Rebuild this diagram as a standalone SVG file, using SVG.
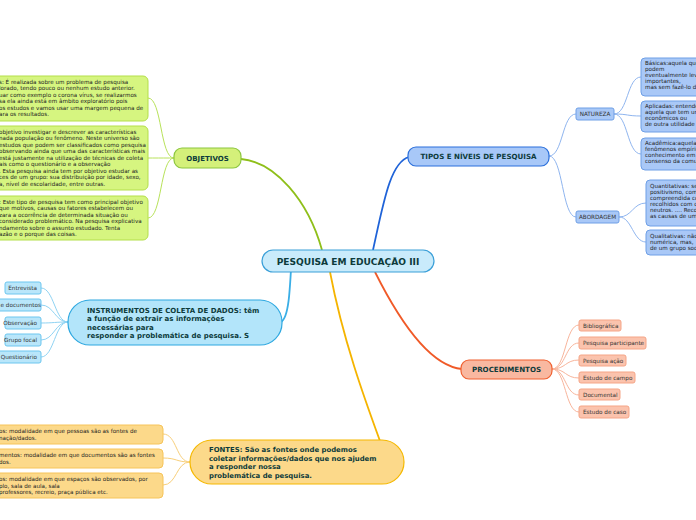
<svg xmlns="http://www.w3.org/2000/svg" width="696" height="520" viewBox="0 0 696 520">
<style>
text{font-family:"DejaVu Sans","Liberation Sans",sans-serif;}
.b{font-weight:bold;fill:#0d3b3b;}
.s{font-size:5.6px;fill:#222;}
.leaf{font-size:5.7px;fill:#333;}
.gl{fill:#d6f580;stroke:#b4df4a;stroke-width:1;}
.bl{fill:#a9c8f7;stroke:#6e9fe6;stroke-width:1;}
.il{fill:#b9e6fa;stroke:#6cc6ef;stroke-width:1;}
.pl{fill:#fbc3ad;stroke:#f5a587;stroke-width:1;}
.ol{fill:#fcd98a;stroke:#f6c45a;stroke-width:1;}
.c{fill:none;stroke-width:1;}
.m{fill:none;stroke-width:1.8;}
</style>
<rect width="696" height="520" fill="#fff"/>
<g id="connectors">
<path class="m" d="M241,159 C275,162 308,200 322,250" stroke="#8fbf1a"/>
<path class="m" d="M373,250 C383,205 390,162 409,157" stroke="#1f63d8"/>
<path class="m" d="M292,250 C290,290 289,318 281,322" stroke="#3aaee6"/>
<path class="m" d="M330,272 C343,340 365,400 380,441" stroke="#f5b400"/>
<path class="m" d="M375,272 C400,322 430,366 462,369" stroke="#f05a28"/>
<g stroke="#b8e25a">
<path class="c" d="M174,158 C160,158 162,98 148,98"/>
<path class="c" d="M174,158 C160,158 162,158 148,158"/>
<path class="c" d="M174,158 C160,158 162,218 148,218"/>
</g>
<g stroke="#8fb5ef">
<path class="c" d="M549,156 C563,156 562,114 576,114"/>
<path class="c" d="M549,156 C563,156 562,217 576,217"/>
<path class="c" d="M614,114 C628,114 627,77 641,77"/>
<path class="c" d="M614,114 C628,114 627,116 641,116"/>
<path class="c" d="M614,114 C628,114 627,154 641,154"/>
<path class="c" d="M619,217 C632,217 633,203 646,203"/>
<path class="c" d="M619,217 C632,217 633,242 646,242"/>
</g>
<g stroke="#8fd3f3">
<path class="c" d="M68,322 C55,322 54,288 41,288"/>
<path class="c" d="M68,322 C55,322 54,305 41,305"/>
<path class="c" d="M68,322 C55,322 54,323 41,323"/>
<path class="c" d="M68,322 C55,322 54,340 41,340"/>
<path class="c" d="M68,322 C55,322 54,357 41,357"/>
</g>
<g stroke="#f8b59c">
<path class="c" d="M552,369 C566,369 565,325 579,325"/>
<path class="c" d="M552,369 C566,369 565,343 579,343"/>
<path class="c" d="M552,369 C566,369 565,360 579,360"/>
<path class="c" d="M552,369 C566,369 565,378 579,378"/>
<path class="c" d="M552,369 C566,369 565,395 579,395"/>
<path class="c" d="M552,369 C566,369 565,412 579,412"/>
</g>
<g stroke="#f8cf7a">
<path class="c" d="M190,462 C176,462 177,434 163,434"/>
<path class="c" d="M190,462 C176,462 177,458 163,458"/>
<path class="c" d="M190,462 C176,462 177,485 163,485"/>
</g>
</g>
<g id="center">
<rect x="262" y="250" width="172" height="22" rx="11" fill="#c9ebfb" stroke="#3a9fd8" stroke-width="1.2"/>
<text class="b" x="348" y="264.6" font-size="9.1" text-anchor="middle">PESQUISA EM EDUCAÇÃO III</text>
</g>
<g id="objetivos">
<rect x="174" y="148" width="67" height="20" rx="8" fill="#d4f07a" stroke="#8cc63f" stroke-width="1.2"/>
<text class="b" x="207.5" y="160.8" font-size="7" text-anchor="middle">OBJETIVOS</text>
</g>
<g id="obj-1">
<rect class="gl" x="-10" y="76" width="158" height="45" rx="5"/>
<text class="s"><tspan x="-1" y="83.5">s: É realizada sobre um problema de pesquisa</tspan><tspan x="-1" y="90">lorado, tendo pouco ou nenhum estudo anterior.</tspan><tspan x="-1" y="96.5">uar como exemplo o corona vírus, se realizarmos</tspan><tspan x="-1" y="103">sa ela ainda está em âmbito exploratório pois</tspan><tspan x="-1" y="109.5">os estudos e vamos usar uma margem pequena de</tspan><tspan x="-1" y="116">ara os resultados.</tspan></text>
</g>
<g id="obj-2">
<rect class="gl" x="-10" y="126" width="158" height="64" rx="5"/>
<text class="s"><tspan x="-1" y="133.5">objetivo investigar e descrever as características</tspan><tspan x="-1" y="140">nada população ou fenômeno. Neste universo são</tspan><tspan x="-1" y="146.5">estudos que podem ser classificados como pesquisa</tspan><tspan x="-1" y="153">observando ainda que uma das características mais</tspan><tspan x="-1" y="159.5">está justamente na utilização de técnicas de coleta</tspan><tspan x="-1" y="166">ais como o questionário e a observação</tspan><tspan x="-1" y="172.5">. Esta pesquisa ainda tem por objetivo estudar as</tspan><tspan x="-1" y="179">ces de um grupo: sua distribuição por idade, sexo,</tspan><tspan x="-1" y="185.5">a, nível de escolaridade, entre outras.</tspan></text>
</g>
<g id="obj-3">
<rect class="gl" x="-10" y="196" width="158" height="44" rx="5"/>
<text class="s"><tspan x="-1" y="203.5">: Este tipo de pesquisa tem como principal objetivo</tspan><tspan x="-1" y="210">que motivos, causas ou fatores estabelecem ou</tspan><tspan x="-1" y="216.5">zara a ocorrência de determinada situação ou</tspan><tspan x="-1" y="223">considerado problemático. Na pesquisa explicativa</tspan><tspan x="-1" y="229.5">ndamento sobre o assunto estudado. Tenta</tspan><tspan x="-1" y="236">azão e o porque das coisas.</tspan></text>
</g>
<g id="tipos">
<rect x="408" y="147" width="141" height="19" rx="8" fill="#a8c8f8" stroke="#2a6fdb" stroke-width="1.2"/>
<text class="b" x="478.5" y="159.2" font-size="7.1" text-anchor="middle">TIPOS E NÍVEIS DE PESQUISA</text>
</g>
<g id="natureza">
<rect class="bl" x="576" y="108" width="38" height="12" rx="2"/>
<text class="leaf" x="595" y="116" text-anchor="middle">NATUREZA</text>
</g>
<g id="abordagem">
<rect class="bl" x="576" y="211" width="43" height="12" rx="2"/>
<text class="leaf" x="597.5" y="219" text-anchor="middle">ABORDAGEM</text>
</g>
<g id="basicas">
<rect class="bl" x="641" y="58" width="62" height="38" rx="4"/>
<text class="s"><tspan x="645" y="65">Básicas:aquela que</tspan><tspan x="645" y="71">podem</tspan><tspan x="645" y="77">eventualmente lev</tspan><tspan x="645" y="83">importantes,</tspan><tspan x="645" y="89">mas sem fazê-lo d</tspan></text>
</g>
<g id="aplicadas">
<rect class="bl" x="641" y="101" width="62" height="31" rx="4"/>
<text class="s"><tspan x="645" y="108">Aplicadas: entende</tspan><tspan x="645" y="114">aquela que tem un</tspan><tspan x="645" y="120">econômicos ou</tspan><tspan x="645" y="126">de outra utilidade</tspan></text>
</g>
<g id="academica">
<rect class="bl" x="641" y="138" width="62" height="32" rx="4"/>
<text class="s"><tspan x="645" y="145">Acadêmica:aquela</tspan><tspan x="645" y="151">fenômenos empíric</tspan><tspan x="645" y="157">conhecimento em</tspan><tspan x="645" y="163">consenso da comu</tspan></text>
</g>
<g id="quantitativas">
<rect class="bl" x="646" y="180" width="57" height="46" rx="4"/>
<text class="s"><tspan x="650" y="188">Quantitativas: se</tspan><tspan x="650" y="194">positivismo, com</tspan><tspan x="650" y="200">compreendida co</tspan><tspan x="650" y="206">recolhidos com c</tspan><tspan x="650" y="212">neutros. .... Reco</tspan><tspan x="650" y="218">as causas de um</tspan></text>
</g>
<g id="qualitativas">
<rect class="bl" x="646" y="230" width="57" height="25" rx="4"/>
<text class="s"><tspan x="650" y="238">Qualitativas: não</tspan><tspan x="650" y="244">numérica, mas,</tspan><tspan x="650" y="250">de um grupo soc</tspan></text>
</g>
<g id="instrumentos">
<rect x="68" y="300" width="214" height="45" rx="22" fill="#b3e5fa" stroke="#2ea8e0" stroke-width="1.2"/>
<text class="b" font-size="7"><tspan x="87" y="312.5">INSTRUMENTOS DE COLETA DE DADOS: têm</tspan><tspan x="87" y="321">a função de extrair as informações</tspan><tspan x="87" y="329.5">necessárias para</tspan><tspan x="87" y="338">responder a problemática de pesquisa. S</tspan></text>
</g>
<g id="entrevista">
<rect class="il" x="5" y="282" width="36" height="12" rx="2"/>
<text class="leaf" x="37" y="290" text-anchor="end">Entrevista</text>
</g>
<g id="documentos">
<rect class="il" x="-10" y="299" width="51" height="12" rx="2"/>
<text class="leaf" x="0.5" y="307" font-size="5.5">e documentos</text>
</g>
<g id="observacao">
<rect class="il" x="5" y="317" width="36" height="12" rx="2"/>
<text class="leaf" x="37" y="325" text-anchor="end">Observação</text>
</g>
<g id="grupo-focal">
<rect class="il" x="5" y="334" width="36" height="12" rx="2"/>
<text class="leaf" x="37" y="342" text-anchor="end">Grupo focal</text>
</g>
<g id="questionario">
<rect class="il" x="-2" y="351" width="43" height="12" rx="2"/>
<text class="leaf" x="37" y="359" text-anchor="end">Questionário</text>
</g>
<g id="procedimentos">
<rect x="461" y="360" width="91" height="19" rx="8" fill="#f9b8a0" stroke="#f06030" stroke-width="1.2"/>
<text class="b" x="506.5" y="372.3" font-size="7.1" text-anchor="middle">PROCEDIMENTOS</text>
</g>
<g id="bibliografica">
<rect class="pl" x="579" y="320" width="42" height="11" rx="2"/>
<text class="leaf" x="583" y="327.5">Bibliográfica</text>
</g>
<g id="participante">
<rect class="pl" x="579" y="337" width="67" height="12" rx="2"/>
<text class="leaf" x="583" y="345">Pesquisa participante</text>
</g>
<g id="acao">
<rect class="pl" x="579" y="355" width="47" height="11" rx="2"/>
<text class="leaf" x="583" y="362.5">Pesquisa ação</text>
</g>
<g id="campo">
<rect class="pl" x="579" y="372" width="56" height="11" rx="2"/>
<text class="leaf" x="583" y="379.5">Estudo de campo</text>
</g>
<g id="documental">
<rect class="pl" x="579" y="389" width="41" height="11" rx="2"/>
<text class="leaf" x="583" y="396.5">Documental</text>
</g>
<g id="caso">
<rect class="pl" x="579" y="406" width="50" height="12" rx="2"/>
<text class="leaf" x="583" y="414">Estudo de caso</text>
</g>
<g id="fontes">
<rect x="190" y="440" width="214" height="44" rx="22" fill="#fcd98a" stroke="#f5b800" stroke-width="1.2"/>
<text class="b" font-size="6.9"><tspan x="209" y="452">FONTES: São as fontes onde podemos</tspan><tspan x="209" y="460.5">coletar informações/dados que nos ajudem</tspan><tspan x="209" y="469">a responder nossa</tspan><tspan x="209" y="477.5">problemática de pesquisa.</tspan></text>
</g>
<g id="fonte-1">
<rect class="ol" x="-10" y="425" width="173" height="19" rx="4"/>
<text class="s"><tspan x="-1" y="433">os:  modalidade em que pessoas são as fontes de</tspan><tspan x="-1" y="439.5">nação/dados.</tspan></text>
</g>
<g id="fonte-2">
<rect class="ol" x="-10" y="449" width="173" height="19" rx="4"/>
<text class="s"><tspan x="-1" y="457">mentos:  modalidade em que documentos são as fontes</tspan><tspan x="-1" y="463.5">dos.</tspan></text>
</g>
<g id="fonte-3">
<rect class="ol" x="-10" y="473" width="173" height="25" rx="4"/>
<text class="s"><tspan x="-1" y="481">os:  modalidade em que espaços são observados, por</tspan><tspan x="-1" y="487.5">plo, sala de aula, sala</tspan><tspan x="-1" y="494">professores, recreio, praça pública etc.</tspan></text>
</g>
</svg>
